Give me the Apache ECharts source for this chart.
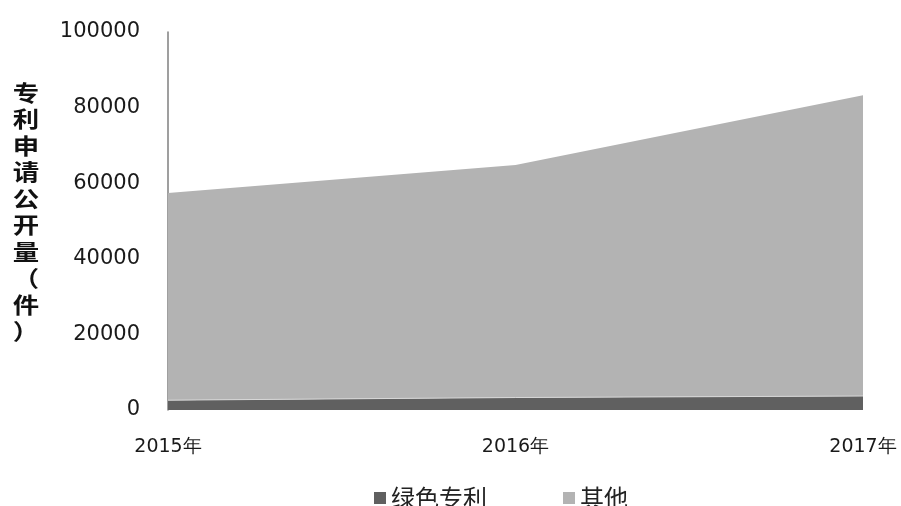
<!DOCTYPE html>
<html>
<head>
<meta charset="utf-8">
<script src="https://cdn.jsdelivr.net/npm/echarts@6/dist/echarts.min.js"></script>
<style>html,body{margin:0;padding:0;background:#fff;}#c{width:901px;height:506px;}</style>
</head>
<body>
<div id="c"></div>
<script>
var categories = ['2015年', '2016年', '2017年'];
var greenPatents = [2600, 3300, 3700];
var others = [54800, 61500, 79600];
var yTicks = [0, 20000, 40000, 60000, 80000, 100000];
var yAxisTitle = '专利申请公开量（件）';
var seriesNames = ['绿色专利', '其他'];

var chart = echarts.init(document.getElementById('c'));
chart.setOption({
  animation: false,
  backgroundColor: '#ffffff',
  grid: { left: 168, right: 38, top: 32, bottom: 96 },
  legend: {
    top: 481,
    left: 369,
    itemGap: 76,
    itemWidth: 12,
    itemHeight: 12,
    icon: 'rect',
    textStyle: { fontSize: 24, color: '#222', fontFamily: 'Noto Sans CJK SC' },
    data: seriesNames
  },
  xAxis: {
    type: 'category',
    data: categories,
    boundaryGap: false,
    axisLine: { show: false },
    axisTick: { show: false },
    axisLabel: { fontSize: 19, color: '#1a1a1a', margin: 28, fontFamily: 'DejaVu Sans' }
  },
  yAxis: {
    type: 'value',
    min: yTicks[0],
    max: yTicks[yTicks.length - 1],
    interval: yTicks[1] - yTicks[0],
    axisLine: { show: true, lineStyle: { color: '#7f7f7f', width: 1.5 } },
    axisTick: { show: false },
    splitLine: { show: false },
    axisLabel: {
      fontSize: 21, color: '#1a1a1a', margin: 28, fontFamily: 'DejaVu Sans',
      formatter: function (v) { return String(v); }
    }
  },
  graphic: [{
    type: 'text',
    x: 26,
    y: 79,
    scaleX: 1.2,
    style: {
      text: yAxisTitle.split('').join('\n'),
      font: 'bold 22px "Noto Sans CJK SC"',
      fill: '#111',
      align: 'center',
      lineHeight: 26.5
    }
  }],
  series: [{
    name: seriesNames[0],
    type: 'line',
    stack: 'total',
    data: greenPatents,
    symbol: 'none',
    lineStyle: { width: 1, color: '#d8d8d8' },
    itemStyle: { color: '#606060' },
    areaStyle: { color: '#606060', opacity: 1 }
  }, {
    name: seriesNames[1],
    type: 'line',
    stack: 'total',
    data: others,
    symbol: 'none',
    lineStyle: { width: 0 },
    itemStyle: { color: '#b3b3b3' },
    areaStyle: { color: '#b3b3b3', opacity: 1 }
  }]
});
</script>
</body>
</html>
